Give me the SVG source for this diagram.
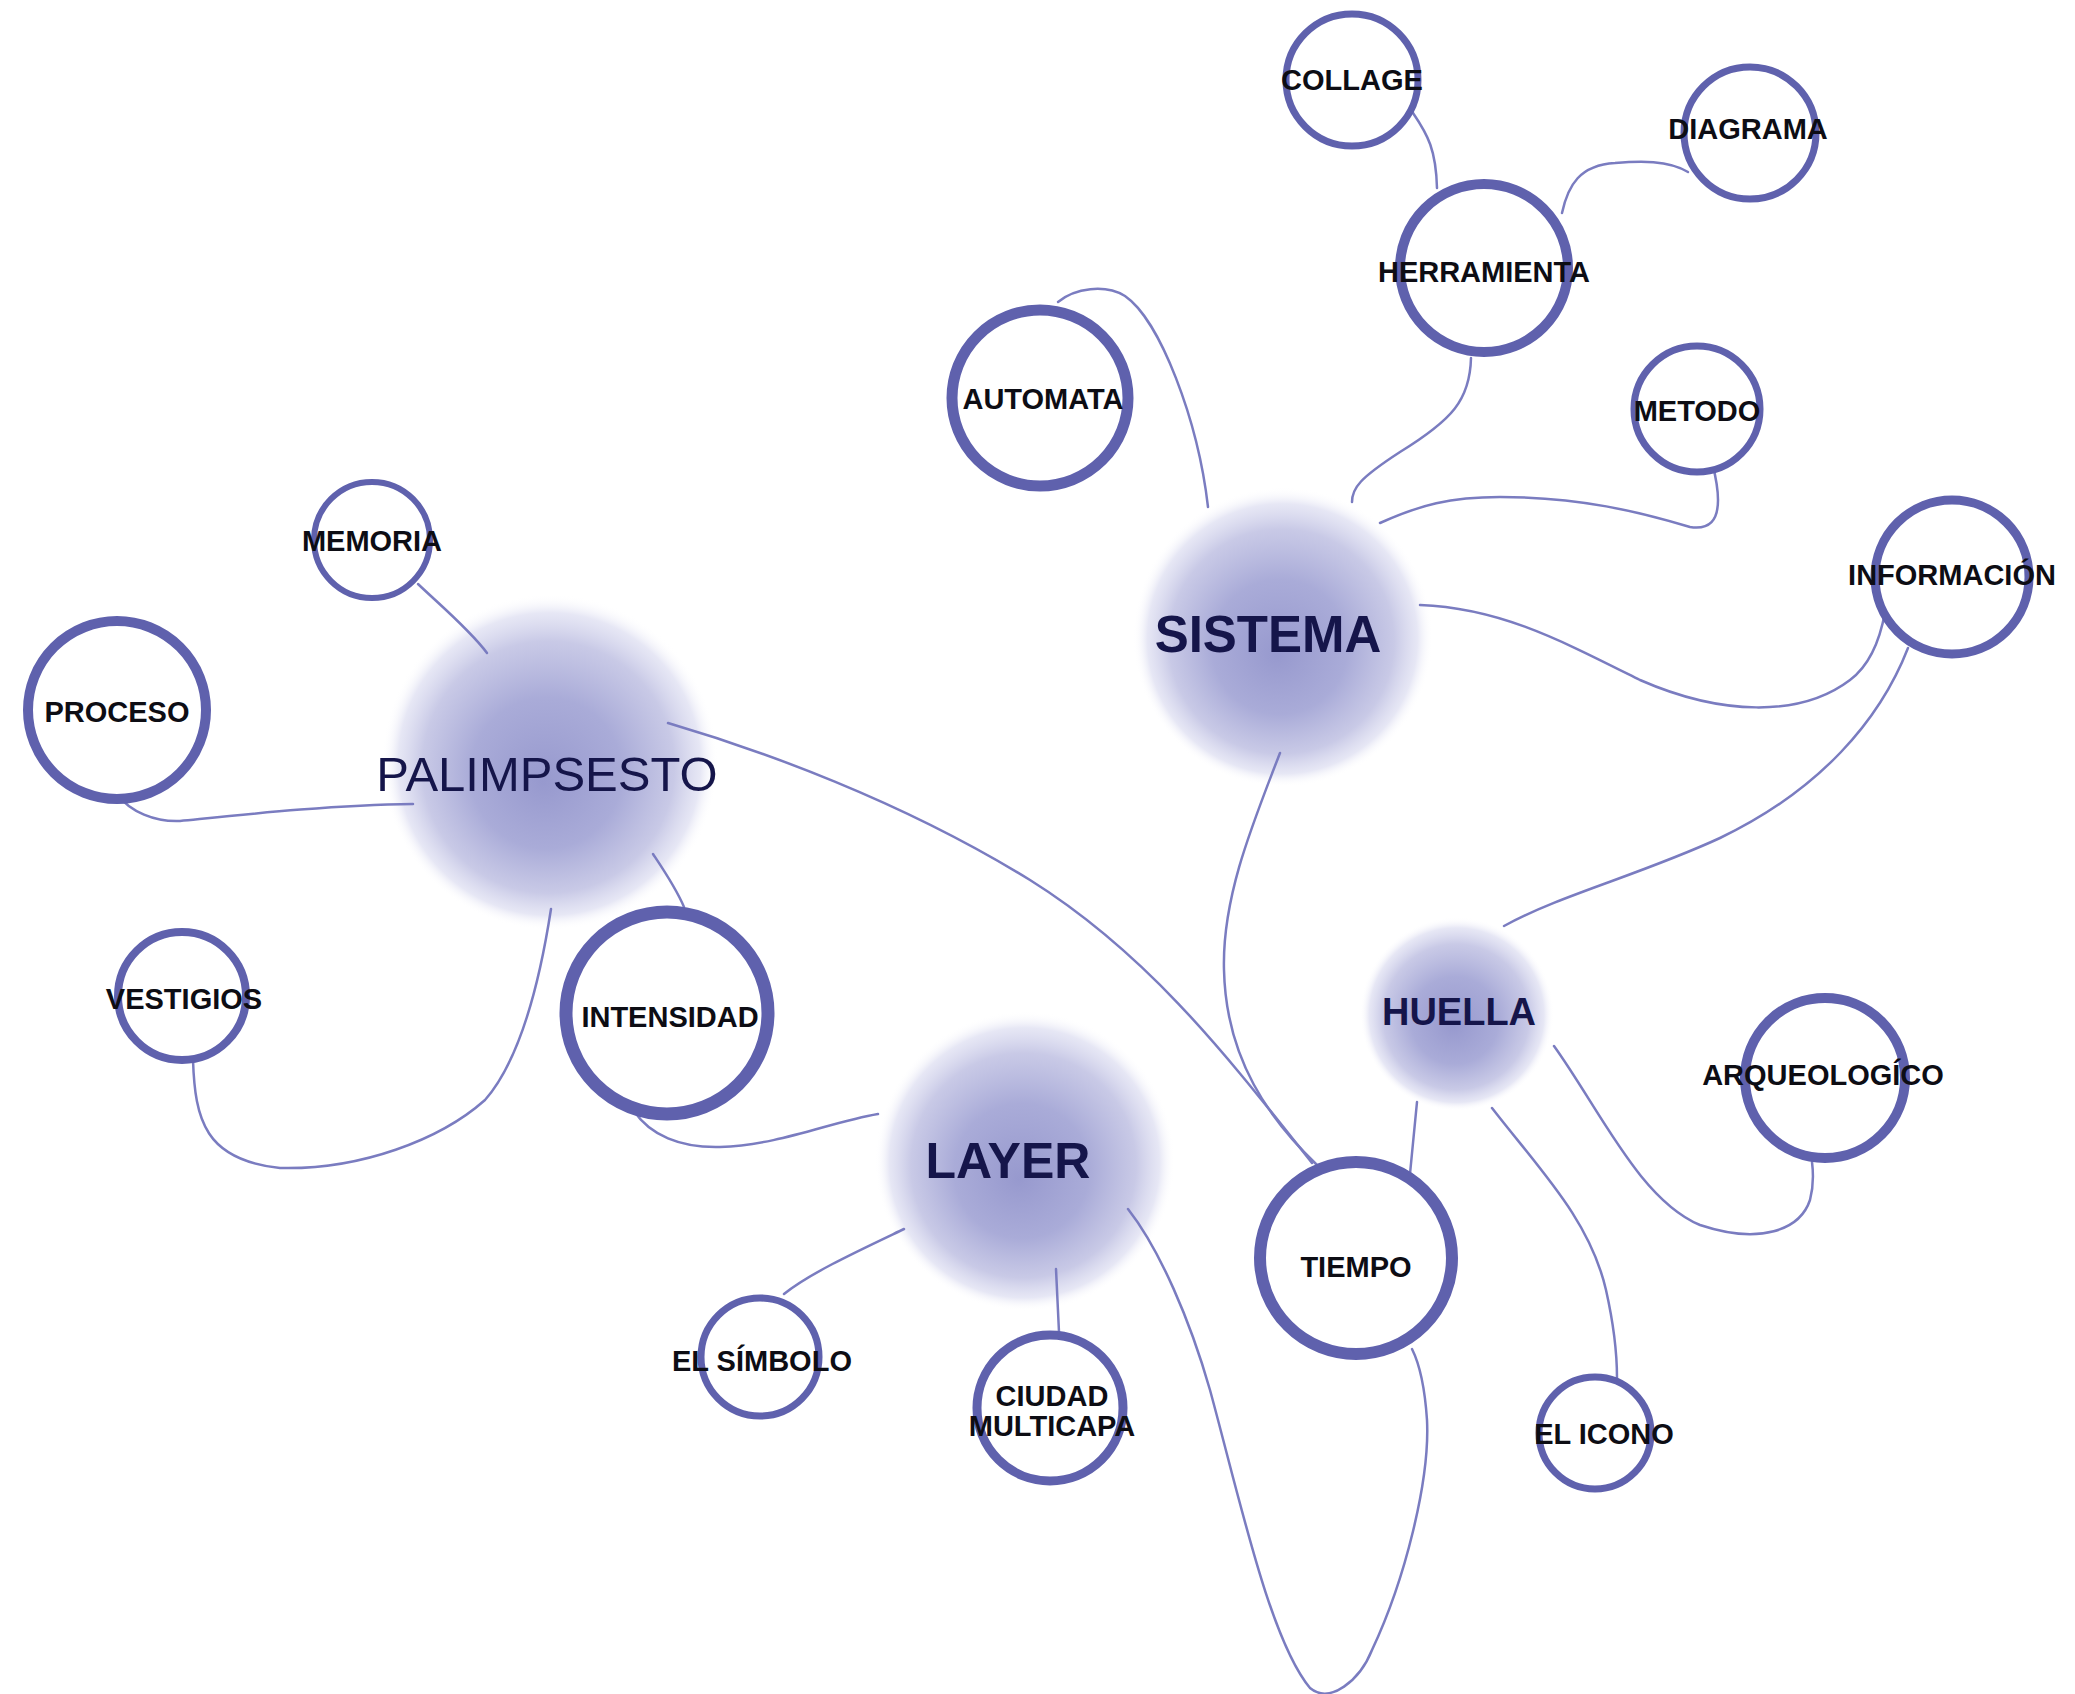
<svg xmlns="http://www.w3.org/2000/svg" width="2075" height="1694" viewBox="0 0 2075 1694">
<defs>
<radialGradient id="blob" cx="0.5" cy="0.5" r="0.5" fx="0.48" fy="0.56">
<stop offset="0" stop-color="#9799ce" stop-opacity="1"/>
<stop offset="0.45" stop-color="#a5a7d6" stop-opacity="0.95"/>
<stop offset="0.75" stop-color="#bfc0e2" stop-opacity="0.85"/>
<stop offset="0.9" stop-color="#d6d7ee" stop-opacity="0.6"/>
<stop offset="1" stop-color="#ffffff" stop-opacity="0"/>
</radialGradient>
<style>
.c{fill:#ffffff;stroke:#5f61ad}
.l{fill:none;stroke:#7a7cc0;stroke-width:2.5;stroke-linecap:round}
.t{font-family:"Liberation Sans",Arial,sans-serif;font-weight:bold;font-size:29px;fill:#0d0d14;text-anchor:middle}
.b{font-family:"Liberation Sans",Arial,sans-serif;fill:#15154a;text-anchor:middle}
</style>
</defs>
<rect width="2075" height="1694" fill="#ffffff"/>
<g id="blobs">
<circle cx="550" cy="762" r="168" fill="url(#blob)"/>
<circle cx="1283" cy="637" r="150" fill="url(#blob)"/>
<circle cx="1025" cy="1161" r="150" fill="url(#blob)"/>
<circle cx="1457" cy="1014" r="97" fill="url(#blob)"/>
</g>
<g id="connectors">
<path class="l" d="M1413,113 C1428,135 1436,150 1437,188"/>
<path class="l" d="M1562,213 C1568,185 1580,165 1615,163 C1640,161 1668,160 1688,172"/>
<path class="l" d="M1471,358 C1470,400 1452,420 1400,452 C1360,478 1352,488 1352,502"/>
<path class="l" d="M1058,302 C1075,288 1105,284 1125,296 C1160,320 1198,420 1208,507"/>
<path class="l" d="M1380,523 C1420,505 1450,497 1500,497 C1580,497 1640,512 1690,527 C1710,530 1718,520 1718,500 C1718,485 1714,470 1712,462"/>
<path class="l" d="M1420,605 C1500,608 1560,640 1640,680 C1720,715 1800,718 1850,680 C1870,665 1880,640 1885,612"/>
<path class="l" d="M1908,648 C1880,720 1820,790 1720,838 C1640,875 1560,895 1504,926"/>
<path class="l" d="M1280,753 C1250,830 1222,900 1224,970 C1226,1060 1270,1120 1318,1166"/>
<path class="l" d="M668,723 C760,750 900,800 1030,880 C1150,955 1230,1060 1312,1163"/>
<path class="l" d="M1417,1102 L1409,1184"/>
<path class="l" d="M1492,1108 C1540,1170 1590,1220 1606,1290 C1615,1330 1617,1360 1617,1378"/>
<path class="l" d="M1554,1046 C1600,1110 1640,1200 1700,1225 C1760,1245 1800,1230 1810,1200 C1814,1185 1813,1170 1812,1162"/>
<path class="l" d="M418,584 C440,605 470,630 487,653"/>
<path class="l" d="M117,794 C130,812 155,822 180,821 C240,815 330,805 413,804"/>
<path class="l" d="M193,1060 C195,1120 205,1160 280,1168 C360,1170 440,1140 485,1100 C520,1060 540,980 551,909"/>
<path class="l" d="M653,854 C665,872 676,888 684,907"/>
<path class="l" d="M634,1111 C650,1135 680,1148 720,1147 C780,1145 830,1122 878,1114"/>
<path class="l" d="M904,1229 C860,1250 810,1273 784,1294"/>
<path class="l" d="M1056,1269 L1059,1332"/>
<path class="l" d="M1128,1209 C1160,1250 1190,1320 1210,1390 C1240,1500 1270,1640 1310,1688 C1330,1705 1360,1680 1372,1650 C1405,1580 1430,1480 1427,1420 C1425,1390 1420,1365 1412,1349"/>
</g>
<g id="palimpsesto"><text class="b" x="547" y="791" font-size="49">PALIMPSESTO</text></g>
<g id="sistema"><text class="b" x="1268" y="652" font-size="51" font-weight="bold">SISTEMA</text></g>
<g id="layer"><text class="b" x="1008" y="1178" font-size="50" font-weight="bold">LAYER</text></g>
<g id="huella"><text class="b" x="1459" y="1025" font-size="38" font-weight="bold">HUELLA</text></g>
<g id="collage"><circle class="c" cx="1352" cy="80" r="66" stroke-width="7"/><text class="t" x="1352" y="90">COLLAGE</text></g>
<g id="diagrama"><circle class="c" cx="1750" cy="133" r="66" stroke-width="7"/><text class="t" x="1748" y="139">DIAGRAMA</text></g>
<g id="herramienta"><circle class="c" cx="1484" cy="268" r="84" stroke-width="10"/><text class="t" x="1484" y="282">HERRAMIENTA</text></g>
<g id="metodo"><circle class="c" cx="1697" cy="409" r="63" stroke-width="7"/><text class="t" x="1697" y="421">METODO</text></g>
<g id="automata"><circle class="c" cx="1040" cy="398" r="88" stroke-width="11"/><text class="t" x="1043" y="409">AUTOMATA</text></g>
<g id="informacion"><circle class="c" cx="1952" cy="577" r="77" stroke-width="9"/><text class="t" x="1952" y="585">INFORMACIÓN</text></g>
<g id="memoria"><circle class="c" cx="372" cy="540" r="58" stroke-width="6"/><text class="t" x="372" y="551">MEMORIA</text></g>
<g id="proceso"><circle class="c" cx="117" cy="710" r="89" stroke-width="10"/><text class="t" x="117" y="722">PROCESO</text></g>
<g id="vestigios"><circle class="c" cx="182" cy="996" r="64" stroke-width="8"/><text class="t" x="184" y="1009">VESTIGIOS</text></g>
<g id="intensidad"><circle class="c" cx="667" cy="1013" r="101" stroke-width="13"/><text class="t" x="670" y="1027">INTENSIDAD</text></g>
<g id="el-simbolo"><circle class="c" cx="760" cy="1357" r="59" stroke-width="7"/><text class="t" x="762" y="1371">EL SÍMBOLO</text></g>
<g id="ciudad-multicapa"><circle class="c" cx="1050" cy="1408" r="73" stroke-width="9"/><text class="t" x="1052" y="1406">CIUDAD</text><text class="t" x="1052" y="1436">MULTICAPA</text></g>
<g id="tiempo"><circle class="c" cx="1356" cy="1258" r="96" stroke-width="12"/><text class="t" x="1356" y="1277">TIEMPO</text></g>
<g id="el-icono"><circle class="c" cx="1595" cy="1433" r="56" stroke-width="7"/><text class="t" x="1604" y="1444">EL ICONO</text></g>
<g id="arqueologico"><circle class="c" cx="1825" cy="1078" r="80" stroke-width="10"/><text class="t" x="1823" y="1085">ARQUEOLOGÍCO</text></g>
</svg>
